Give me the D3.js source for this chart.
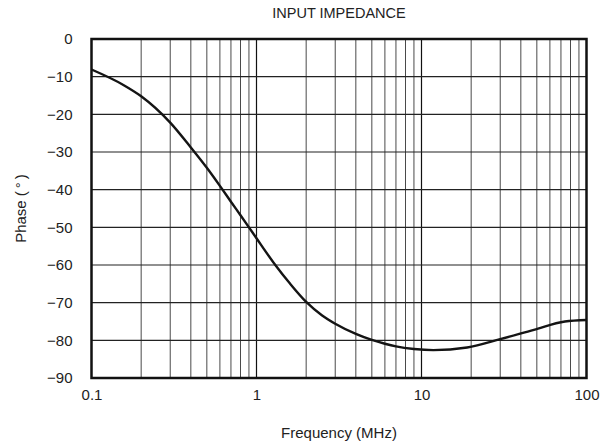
<!DOCTYPE html>
<html>
<head>
<meta charset="utf-8">
<script src="https://cdn.jsdelivr.net/npm/d3@7/dist/d3.min.js"></script>
<style>
  html, body { margin: 0; padding: 0; background: #fff; }
  svg { display: block; font-family: "Liberation Sans", Arial, sans-serif; }
</style>
</head>
<body>
<svg id="chart" width="612" height="444"></svg>
<script>
// Input impedance phase vs. frequency
const frequencyMHz = [0.1, 0.156, 0.2, 0.3, 0.4, 0.5, 0.6, 0.7, 0.8, 0.9, 1, 1.3, 1.6, 2, 2.5, 3, 4, 5, 6, 7, 9, 11.8, 18.9, 30, 48, 74, 100];
const phaseDeg    = [-8.1, -12.2, -15.2, -22.2, -28.8, -34.2, -39.0, -43.2, -46.8, -50.0, -52.9, -60, -65.0, -69.8, -73.4, -75.6, -78.3, -79.9, -80.9, -81.6, -82.3, -82.6, -81.9, -79.7, -77.2, -75.0, -74.6];

const xTickValues = [0.1, 1, 10, 100];
const xTickLabels = ["0.1", "1", "10", "100"];
const yTickValues = [0, -10, -20, -30, -40, -50, -60, -70, -80, -90];
const yTickLabels = ["0", "\u221210", "\u221220", "\u221230", "\u221240", "\u221250", "\u221260", "\u221270", "\u221280", "\u221290"];

const titleText = "INPUT IMPEDANCE";
const xTitle = "Frequency (MHz)";
const yTitle = "Phase (\u2009\u00B0\u2009)";

const svg = d3.select("#chart");
const plot = { left: 91.5, right: 586.5, top: 39, bottom: 378 };

const x = d3.scaleLog().domain([0.1, 100]).range([plot.left, plot.right]);
const y = d3.scaleLinear().domain([0, -90]).range([plot.top, plot.bottom]);

// Minor vertical grid (2..9 in each decade)
const minor = [];
for (let d = 0.1; d < 100; d *= 10) {
  for (let k = 2; k <= 9; k++) minor.push(+(d * k).toPrecision(3));
}
svg.append("g").selectAll("line").data(minor).join("line")
  .attr("x1", d => x(d)).attr("x2", d => x(d))
  .attr("y1", plot.top).attr("y2", plot.bottom)
  .attr("stroke", "#4a4a4a").attr("stroke-width", 1);

// Major vertical grid at decades
svg.append("g").selectAll("line").data(xTickValues.slice(1, -1)).join("line")
  .attr("x1", d => x(d)).attr("x2", d => x(d))
  .attr("y1", plot.top).attr("y2", plot.bottom)
  .attr("stroke", "#111").attr("stroke-width", 1.2);

// Horizontal grid
svg.append("g").selectAll("line").data(yTickValues.slice(1, -1)).join("line")
  .attr("x1", plot.left).attr("x2", plot.right)
  .attr("y1", d => y(d)).attr("y2", d => y(d))
  .attr("stroke", "#222").attr("stroke-width", 1.1);

// Frame
svg.append("rect")
  .attr("x", plot.left).attr("y", plot.top)
  .attr("width", plot.right - plot.left).attr("height", plot.bottom - plot.top)
  .attr("fill", "none").attr("stroke", "#111").attr("stroke-width", 2.5);

// Curve
const line = d3.line()
  .x((d, i) => x(frequencyMHz[i]))
  .y(d => y(d))
  .curve(d3.curveMonotoneX);
svg.append("path")
  .attr("d", line(phaseDeg))
  .attr("fill", "none").attr("stroke", "#141414").attr("stroke-width", 2.4)
  .attr("stroke-linejoin", "round");

// X axis labels
const xAxis = d3.axisBottom(x).tickValues(xTickValues)
  .tickFormat((d, i) => xTickLabels[i]).tickSize(0).tickPadding(11);
const gx = svg.append("g").attr("transform", `translate(0,${plot.bottom})`).call(xAxis);
gx.select(".domain").remove();
gx.selectAll("text").attr("font-size", 15).attr("fill", "#222")
  .attr("font-family", "Liberation Sans, Arial, sans-serif");

// Y axis labels
const yAxis = d3.axisLeft(y).tickValues(yTickValues)
  .tickFormat((d, i) => yTickLabels[i]).tickSize(0).tickPadding(19);
const gy = svg.append("g").attr("transform", `translate(${plot.left},0)`).call(yAxis);
gy.select(".domain").remove();
gy.selectAll("text").attr("font-size", 15).attr("fill", "#222")
  .attr("font-family", "Liberation Sans, Arial, sans-serif");

// Titles
svg.append("text").attr("x", (plot.left + plot.right) / 2).attr("y", 18)
  .attr("text-anchor", "middle").attr("font-size", 14.5).attr("fill", "#222")
  .text(titleText);
svg.append("text").attr("x", (plot.left + plot.right) / 2).attr("y", 438)
  .attr("text-anchor", "middle").attr("font-size", 15).attr("fill", "#222")
  .text(xTitle);
svg.append("text")
  .attr("transform", `translate(26,${(plot.top + plot.bottom) / 2}) rotate(-90)`)
  .attr("text-anchor", "middle").attr("font-size", 15).attr("fill", "#222")
  .text(yTitle);
</script>
</body>
</html>
